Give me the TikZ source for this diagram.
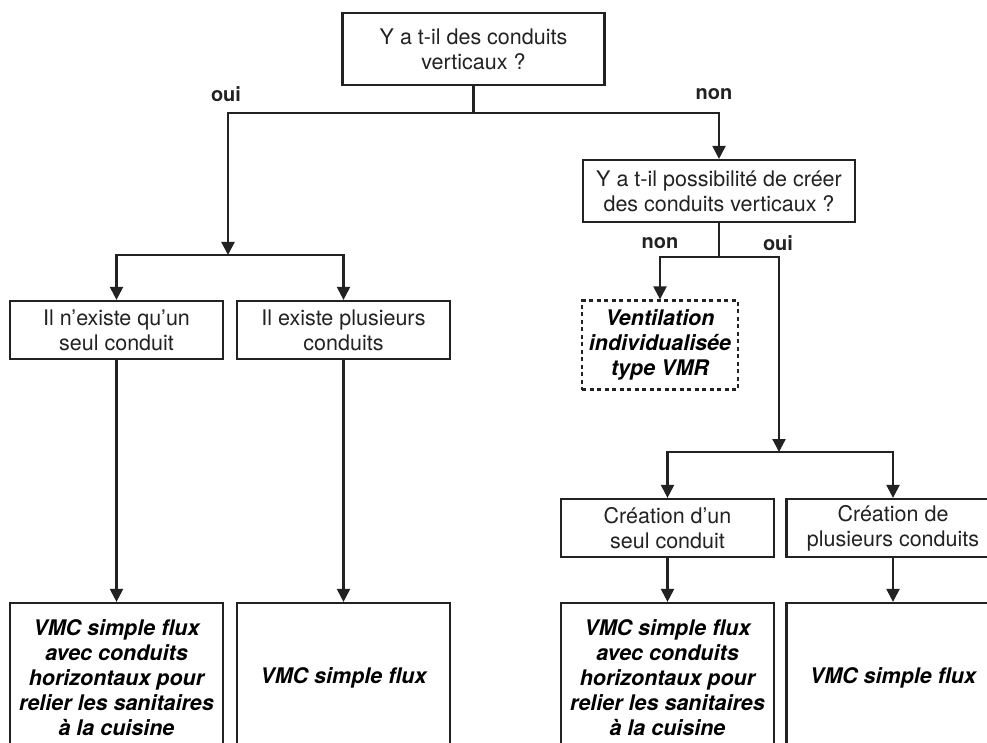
\documentclass[tikz,border=0pt]{standalone}
\usepackage{fontspec}
\setmainfont{TeX Gyre Heros}
\usetikzlibrary{arrows.meta}
\definecolor{ink}{HTML}{222222}
\tikzset{
  box/.style={draw=ink, line width=2.2pt, inner sep=0pt, align=center, text=ink,
    font=\fontsize{21.5}{25}\selectfont},
  res/.style={box, font=\fontsize{21.5}{25}\selectfont\bfseries\itshape, text=black},
  arr/.style={draw=ink, line width=2.2pt, -{Triangle[length=13pt,width=13pt]}},
  ln/.style={draw=ink, line width=2.2pt},
  lbl/.style={text=ink, font=\fontsize{20}{24}\selectfont\bfseries}
}
\begin{document}
\begin{tikzpicture}[x=1pt,y=-1pt]
\useasboundingbox (0,0) rectangle (987,743);
\clip (0,0) rectangle (987,743);
\fill[white] (0,0) rectangle (987,743);
% questions
\node[box, minimum width=262pt, minimum height=72pt] (q1) at (473.5,49) {Y a t-il des conduits\\verticaux ?};
\node[box, minimum width=272pt, minimum height=62pt] (q2) at (719,191) {Y a t-il possibilité de créer\\des conduits verticaux ?};
% left branch
\node[box, minimum width=213pt, minimum height=58pt] (a1) at (116.5,330) {Il n’existe qu’un\\seul conduit};
\node[box, minimum width=213pt, minimum height=58pt] (a2) at (343.5,330) {Il existe plusieurs\\conduits};
\node[res, minimum width=213pt, minimum height=150pt] (r1) at (116.5,678) {VMC simple flux\\avec conduits\\horizontaux pour\\relier les sanitaires\\à la cuisine};
\node[res, minimum width=213pt, minimum height=150pt] (r2) at (343.5,678) {VMC simple flux};
% right branch
\node[res, dash pattern=on 4pt off 3.5pt, minimum width=156pt, minimum height=89pt] (vmr) at (660,345) {Ventilation\\individualisée\\type VMR};
\node[box, minimum width=213pt, minimum height=58pt] (c1) at (667.5,528) {Création d’un\\seul conduit};
\node[box, minimum width=213pt, minimum height=58pt] (c2) at (893,528) {Création de\\plusieurs conduits};
\node[res, minimum width=213pt, minimum height=150pt] (r3) at (667.5,678) {VMC simple flux\\avec conduits\\horizontaux pour\\relier les sanitaires\\à la cuisine};
\node[res, minimum width=213pt, minimum height=150pt] (r4) at (893,678) {VMC simple flux};
% junction coordinates
\coordinate (t1) at (473.5,113);
\coordinate (hL) at (228,255);
\coordinate (t2) at (719,257);
\coordinate (hC) at (779,452);
% connectors
\draw[ln] (q1.south) -- (t1);
\draw[arr] (t1) -| (hL);
\draw[arr] (t1) -| (q2.north);
\draw[arr] (hL) -| (a1.north);
\draw[arr] (hL) -| (a2.north);
\draw[arr] (a1.south) -- (r1.north);
\draw[arr] (a2.south) -- (r2.north);
\draw[ln] (q2.south) -- (t2);
\draw[arr] (t2) -| (vmr.north);
\draw[arr] (t2) -| (hC);
\draw[arr] (hC) -| (c1.north);
\draw[arr] (hC) -| (c2.north);
\draw[arr] (c1.south) -- (r3.north);
\draw[arr] (c2.south) -- (r4.north);
% labels
\node[lbl] (lo1) at (226,94) {oui};
\node[lbl] (ln1) at (714,94) {non};
\node[lbl] (ln2) at (660,243) {non};
\node[lbl] (lo2) at (778,243) {oui};
\end{tikzpicture}
\end{document}
